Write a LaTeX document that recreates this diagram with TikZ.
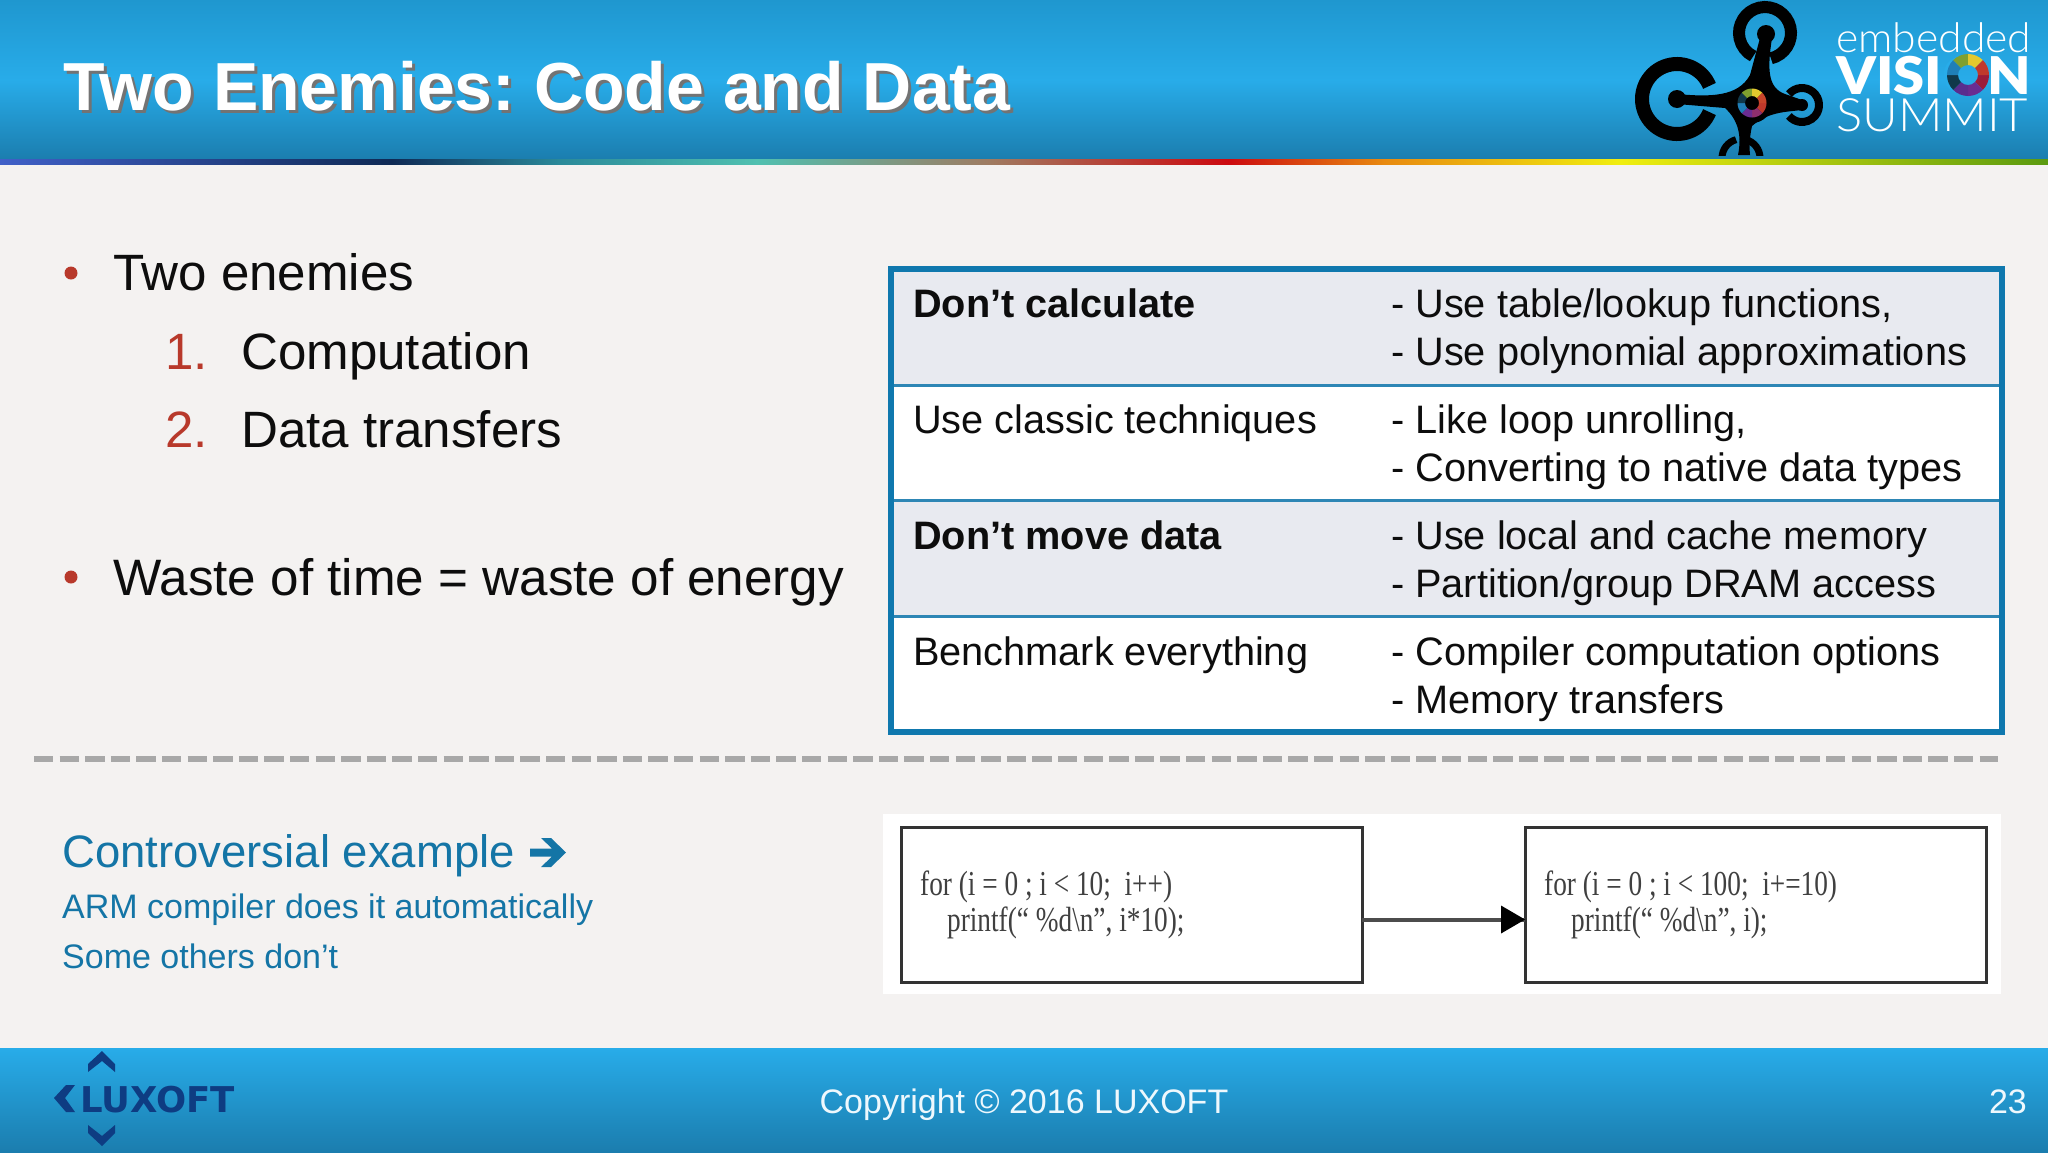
\documentclass[tikz,border=0pt]{standalone}
\usepackage{fontspec}
\setmainfont{Liberation Sans}
\newfontfamily\serifcode{Liberation Serif}
\newfontfamily\logolight{Lato Light}
\newfontfamily\logoblack{Lato Black}
\newfontfamily\luxfont{DejaVu Sans}
\frenchspacing
\definecolor{slidebg}{HTML}{F4F2F1}
\definecolor{bandtop}{HTML}{1F97CF}
\definecolor{bandmid}{HTML}{28ACE9}
\definecolor{bandlow}{HTML}{1B7DAE}
\definecolor{tablerule}{HTML}{0F78AE}
\definecolor{rowline}{HTML}{2D86B5}
\definecolor{rowgrey}{HTML}{E8EAF0}
\definecolor{bulletred}{HTML}{B8392B}
\definecolor{linkblue}{HTML}{1475A6}
\definecolor{luxblue}{HTML}{0E3C82}
\definecolor{dashgrey}{HTML}{A8A8A8}
\newcommand{\sz}[1]{\fontsize{#1}{#1}\selectfont}
\newcommand{\titleshadow}[1]{\rlap{\kern3pt\raisebox{-3pt}{\color{black!55}#1}}#1}
\tikzset{
  txt/.style={inner sep=0pt, anchor=base west},
  bigtxt/.style={txt, font=\sz{51.1}, text=black!95},
  redtxt/.style={txt, font=\sz{51.1}, text=bulletred},
  celltxt/.style={txt, font=\sz{39.7}, text=black!95},
  linktxt/.style={txt, font=\sz{34}, text=linkblue},
  codetxt/.style={txt, font=\serifcode\sz{35}, text=black!75, xscale=.78},
  rowbox/.style={rectangle, draw=rowline, line width=3pt, outer sep=0pt, minimum width=1111pt, minimum height=116pt, inner sep=0pt, anchor=north west},
  codebox/.style={rectangle, draw=black!80, line width=3pt, outer sep=0pt, fill=white, minimum width=461pt, minimum height=155pt, inner sep=0pt, anchor=north west},
}
\begin{document}
\begin{tikzpicture}[x=1pt, y=-1pt]
\useasboundingbox (0,0) rectangle (2048,1152);
\fill[slidebg] (0,0) rectangle (2048,1152);
% header and footer bands
\shade[top color=bandtop, bottom color=bandlow, middle color=bandmid] (0,0) rectangle (2048,160);
\shade[top color=bandmid, bottom color=bandlow] (0,1048) rectangle (2048,1152);
\foreach \xa/\xb/\ca/\cb in {0/392/4060C8/0F2A55, 392/560/0F2A55/2A8A9A, 560/757/2A8A9A/50C0B0, 757/992/50C0B0/A07A60, 992/1228/A07A60/CC0A10, 1228/1384/CC0A10/E88A10, 1384/1620/E88A10/F0EE10, 1620/2048/F0EE10/5A9A10}{
  \definecolor{ca}{HTML}{\ca}
  \definecolor{cb}{HTML}{\cb}
  \shade[left color=ca, right color=cb] (\xa,159) rectangle (\xb+.5,164);
}
\node[txt, font=\bfseries\sz{68}, text=white] (title) at (63,110) {\titleshadow{Two Enemies: Code and Data}};
% drone logo
\begin{scope}[black, line cap=butt]
\clip (1600,0) rectangle (1830,155);
\fill (1760,38) -- (1772,38) .. controls (1767,70) and (1768,88) .. (1785,94) -- (1802,100) -- (1802,110) .. controls (1785,112) and (1768,112) .. (1752,126) .. controls (1750,135) and (1749,145) .. (1750,155) -- (1738,155) .. controls (1742,135) and (1738,120) .. (1725,108) -- (1677,104) -- (1677,94) .. controls (1710,97) and (1738,97) .. (1750,75) -- cycle;
\fill (1766,34) circle (9) (1677,99) circle (9) (1802,105) circle (6);
\draw[line width=12pt] (1765,33) ++(77:26) arc[start angle=77, end angle=-243, radius=26];
\draw[line width=14pt] (1677,99) ++(-22:35) arc[start angle=-22, end angle=-338, radius=35];
\draw[line width=8pt] (1802,105) ++(220:17) arc[start angle=220, end angle=500, radius=17];
\draw[line width=7pt] (1741,158) ++(180:19) arc[start angle=180, end angle=255, radius=19];
\draw[line width=7pt] (1741,158) ++(285:19) arc[start angle=285, end angle=360, radius=19];
\fill (1752,103) circle (20);
\end{scope}
\foreach \a/\c in {0/C0392B, 45/8E2F6E, 90/6A2C91, 135/1F7FB8, 180/10384A, 225/7FA02F, 270/E4C92E, 315/C8452B}{
  \definecolor{segc}{HTML}{\c}
  \fill[segc] (1752,103) ++(\a:14.5) arc[start angle=\a, end angle=\a+45, radius=14.5] -- ++(\a+45:-7.5) arc[start angle=\a+45, end angle=\a, radius=7] -- cycle;
}
\node[txt, font=\logolight\sz{41}, text=white, xscale=1.04] (embedded) at (1836,52) {embedded};
\node[txt, font=\logoblack\sz{52}, text=white, xscale=1.08] (vision) at (1836,94) {VISI{\color{bandmid}O}N};
\node[txt, font=\logolight\sz{46}, text=white, xscale=1.066] (summit) at (1836,131) {SUMMIT};
\foreach \a/\c in {0/9B1C3A, 45/6A2C91, 90/5A2D8E, 135/10384A, 180/1F7FB8, 225/7FA02F, 270/E4C92E, 315/C0392B}{
  \definecolor{segc}{HTML}{\c}
  \fill[segc] (1968,75) ++(\a:21) arc[start angle=\a, end angle=\a+45, radius=21] -- ++(\a+45:-11) arc[start angle=\a+45, end angle=\a, radius=10] -- cycle;
}
% left column
\fill[bulletred] (71,273) circle (6.5);
\node[bigtxt] (enemies) at (113,290.5) {Two enemies};
\node[redtxt] (numa) at (165,369) {1.};
\node[bigtxt] (compute) at (241,369) {Computation};
\node[redtxt] (numb) at (165,447) {2.};
\node[bigtxt] (transfer) at (241,447) {Data transfers};
\fill[bulletred] (71,577) circle (6.5);
\node[bigtxt, font=\sz{51.2}] (waste) at (113,595) {Waste of time = waste of energy};
% table
\node[rowbox, fill=rowgrey] (rowa) at (891,269) {};
\node[rowbox, fill=white] (rowb) at (891,385) {};
\node[rowbox, fill=rowgrey] (rowc) at (891,500.5) {};
\node[rowbox, fill=white] (rowd) at (891,616) {};
\draw[tablerule, line width=6.5pt] (rowa.north west) rectangle (rowd.south east);
\node[celltxt, font=\bfseries\sz{39.7}] (cella) at (913,317) {Don’t calculate};
\node[celltxt] (cellb) at (1391,317) {- Use table/lookup functions,};
\node[celltxt] (cellc) at (1391,365) {- Use polynomial approximations};
\node[celltxt] (celld) at (913,433) {Use classic techniques};
\node[celltxt] (celle) at (1391,433) {- Like loop unrolling,};
\node[celltxt] (cellf) at (1391,481) {- Converting to native data types};
\node[celltxt, font=\bfseries\sz{39.7}] (cellg) at (913,549) {Don’t move data};
\node[celltxt] (cellh) at (1391,549) {- Use local and cache memory};
\node[celltxt] (celli) at (1391,597) {- Partition/group DRAM access};
\node[celltxt] (cellj) at (913,665) {Benchmark everything};
\node[celltxt] (cellk) at (1391,665) {- Compiler computation options};
\node[celltxt] (celll) at (1391,713) {- Memory transfers};
% dashed divider
\coordinate (dasha) at (34,759);
\coordinate (dashb) at (1998,759);
\draw[dashgrey, line width=6.5pt, dash pattern=on 19.3pt off 6.3pt] (dasha) -- (dashb);
% lower left text
\node[txt, font=\sz{45.5}, text=linkblue] (example) at (62,867.5) {Controversial example};
\fill[linkblue] (530,848.5) -- (552,848.5) -- (541,838) -- (551,838) -- (566,852.5) -- (551,867) -- (541,867) -- (552,856.5) -- (530,856.5) -- cycle;
\node[linktxt] (armtxt) at (62,918) {ARM compiler does it automatically};
\node[linktxt] (othertxt) at (62,968) {Some others don’t};
% code picture
\fill[white] (883,814) rectangle (2001,994);
\node[codebox] (boxa) at (901,827) {};
\node[codebox] (boxb) at (1525,827) {};
\node[codetxt] (codea) at (920,895) {for (i = 0 ; i < 10;\ \ i++)};
\node[codetxt] (codeb) at (947,931) {printf(“ \%d\textbackslash n”, i*10);};
\node[codetxt] (codec) at (1544,895) {for (i = 0 ; i < 100;\ \ i+=10)};
\node[codetxt] (coded) at (1571,931) {printf(“ \%d\textbackslash n”, i);};
\draw[black!70, line width=4pt] ([yshift=-15pt]boxa.east) -- ([yshift=-15pt]boxb.west);
\fill[black] ([yshift=-15pt]boxb.west) -- ++(-24,-14) -- ++(0,28) -- cycle;
% footer
\fill[luxblue] (102,1051) -- (115,1064) -- (115,1072) -- (102,1061) -- (88,1072) -- (88,1064) -- cycle;
\fill[luxblue] (102,1146) -- (115,1133) -- (115,1125) -- (102,1136) -- (88,1125) -- (88,1133) -- cycle;
\fill[luxblue] (54,1098) -- (66,1085) -- (75,1085) -- (65,1098) -- (75,1112) -- (66,1112) -- cycle;
\node[txt, font=\luxfont\bfseries\sz{35.5}, text=luxblue] (luxoft) at (80,1112) {LUXOFT};
\node[txt, font=\sz{34}, text=white!92!bandmid, anchor=base] (copy) at (1024,1113) {Copyright © 2016 LUXOFT};
\node[txt, font=\sz{34}, text=white!92!bandmid, anchor=base east] (pageno) at (2027,1113) {23};
\end{tikzpicture}
\end{document}
